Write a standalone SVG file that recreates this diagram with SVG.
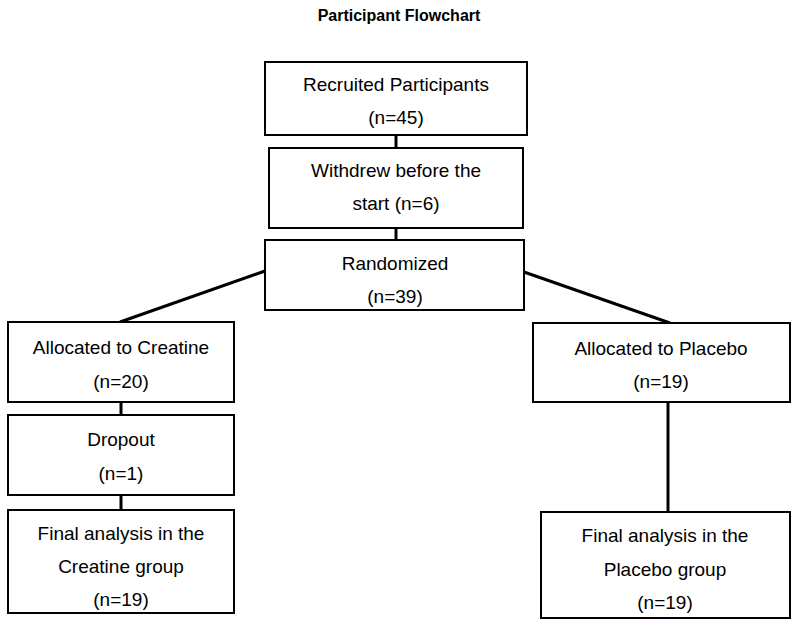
<svg xmlns="http://www.w3.org/2000/svg" width="800" height="625" viewBox="0 0 800 625">
<style>
rect{fill:#fff;stroke:#000;stroke-width:2}
text{font-family:"Liberation Sans",Arial,sans-serif;font-size:19px;text-anchor:middle;fill:#000}
.t{font-weight:bold;font-size:16px}
line{stroke:#000;stroke-width:3}
</style>
<rect x="0" y="0" width="800" height="625" style="stroke:none"/>
<text class="t" x="399" y="21">Participant Flowchart</text>
<g id="connectors">
<line x1="396" y1="135" x2="396" y2="148"/>
<line x1="396" y1="228" x2="396" y2="240"/>
<line x1="265" y1="271" x2="120" y2="322"/>
<line x1="524" y1="272" x2="670" y2="323"/>
<line x1="121" y1="402" x2="121" y2="415"/>
<line x1="121" y1="495" x2="121" y2="510"/>
<line x1="668" y1="402" x2="668" y2="512"/>
</g>
<g id="recruited"><rect x="265" y="62" width="262" height="73"/><text x="396" y="91">Recruited Participants</text><text x="396" y="124">(n=45)</text></g>
<g id="withdrew"><rect x="269" y="148" width="254" height="80"/><text x="396" y="177">Withdrew before the</text><text x="396" y="210">start (n=6)</text></g>
<g id="randomized"><rect x="265" y="240" width="259" height="70"/><text x="395" y="270">Randomized</text><text x="395" y="303">(n=39)</text></g>
<g id="creatine"><rect x="8" y="322" width="226" height="80"/><text x="121" y="354">Allocated to Creatine</text><text x="121" y="388">(n=20)</text></g>
<g id="dropout"><rect x="8" y="415" width="226" height="80"/><text x="121" y="446">Dropout</text><text x="121" y="480">(n=1)</text></g>
<g id="finalCreatine"><rect x="8" y="510" width="226" height="103"/><text x="121" y="540">Final analysis in the</text><text x="121" y="573">Creatine group</text><text x="121" y="606">(n=19)</text></g>
<g id="placebo"><rect x="533" y="323" width="257" height="79"/><text x="661" y="355">Allocated to Placebo</text><text x="661" y="388">(n=19)</text></g>
<g id="finalPlacebo"><rect x="541" y="512" width="249" height="106"/><text x="665" y="542">Final analysis in the</text><text x="665" y="576">Placebo group</text><text x="665" y="609">(n=19)</text></g>
</svg>
